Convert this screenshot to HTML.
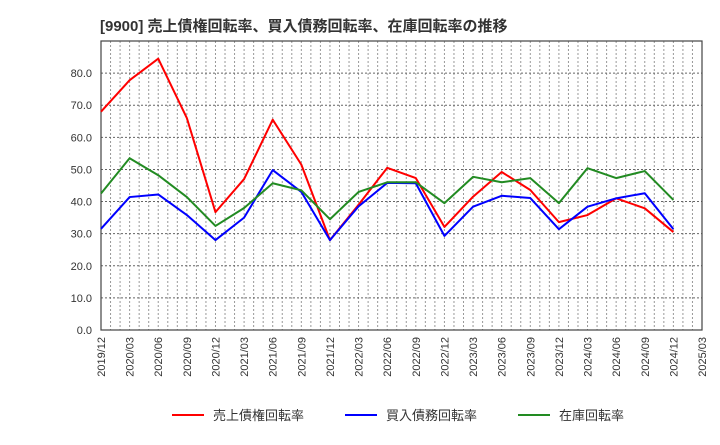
<!DOCTYPE html>
<html><head><meta charset="utf-8"><style>
body{margin:0;background:#fff;font-family:"Liberation Sans","Noto Sans CJK JP",sans-serif;}
</style></head><body>
<svg id="chart" width="720" height="440" xmlns="http://www.w3.org/2000/svg" style="font-family:'Liberation Sans','Noto Sans CJK JP',sans-serif">
<text x="100" y="31" font-size="15" font-weight="bold" fill="#333">[9900]  売上債権回転率、買入債務回転率、在庫回転率の推移</text>
<g id="grid"></g><g id="axes"></g><g id="series"></g>
<g>
<g><line x1="172" y1="415" x2="204" y2="415" stroke="#ff0000" stroke-width="2"/><text x="213" y="420" font-size="13" fill="#333">売上債権回転率</text></g>
<g><line x1="345" y1="415" x2="377" y2="415" stroke="#0000ff" stroke-width="2"/><text x="386" y="420" font-size="13" fill="#333">買入債務回転率</text></g>
<g><line x1="518" y1="415" x2="550" y2="415" stroke="#228b22" stroke-width="2"/><text x="559" y="420" font-size="13" fill="#333">在庫回転率</text></g>
</g>
</svg>
<script>
const categories=["2019/12","2020/03","2020/06","2020/09","2020/12","2021/03","2021/06","2021/09","2021/12","2022/03","2022/06","2022/09","2022/12","2023/03","2023/06","2023/09","2023/12","2024/03","2024/06","2024/09","2024/12","2025/03"];
const receivables=[68,77.8,84.5,66,36.7,47,65.5,51.5,28,39,50.5,47.3,32.1,41.5,49.2,43.6,33.6,35.8,41,37.9,30.5];
const payables=[31.5,41.4,42.2,35.8,28,35,49.8,43,28,38.5,45.8,45.7,29.3,38.4,41.8,41.1,31.4,38.4,41,42.6,31.4];
const inventory=[42.5,53.5,48.2,41.4,32.4,38,45.7,43.5,34.5,43,46,46,39.5,47.7,46,47.3,39.5,50.4,47.3,49.5,40.5];
const yTicks=[0,10,20,30,40,50,60,70,80];
const L=101,R=702,T=41,B=330,YMAX=90;
const xs=i=>L+i*(R-L)/(categories.length-1);
const ys=v=>B-v*(B-T)/YMAX;
const NS="http://www.w3.org/2000/svg";
function mk(tag,attrs,parent){const e=document.createElementNS(NS,tag);for(const k in attrs)e.setAttribute(k,attrs[k]);parent.appendChild(e);return e;}
const grid=document.getElementById('grid'),axes=document.getElementById('axes'),ser=document.getElementById('series');
const months=(categories.length-1)*3;
for(let m=1;m<months;m++){const x=L+m*(R-L)/months;const l=mk('line',{x1:x,x2:x,y1:T,y2:B,stroke:'#999','stroke-dasharray':'2,2','stroke-width':1},grid);

}
yTicks.forEach(v=>{const y=ys(v);if(v>0){const l=mk('line',{x1:L,x2:R,y1:y,y2:y,stroke:'#666','stroke-dasharray':'2,2','stroke-width':1},grid);

}
const t=mk('text',{x:L-9,y:y+4,'font-size':11,'text-anchor':'end',fill:'#333'},axes);t.textContent=v.toFixed(1);

});
const frame=mk('rect',{x:L,y:T,width:R-L,height:B-T,fill:'none',stroke:'#444','stroke-width':1.2},axes);


categories.forEach((c,i)=>{const x=xs(i);const t=mk('text',{x:0,y:0,'font-size':11,'text-anchor':'end',fill:'#333',transform:`translate(${x+4},${B+7}) rotate(-90)`},axes);t.textContent=c;

});
[[receivables,'#ff0000','receivables-line'],[payables,'#0000ff','payables-line'],[inventory,'#228b22','inventory-line']].forEach(([d,c,n])=>{
const p=mk('polyline',{points:d.map((v,i)=>xs(i)+','+ys(v)).join(' '),fill:'none',stroke:c,'stroke-width':2,'stroke-linejoin':'round'},ser);

});
</script>
</body></html>
